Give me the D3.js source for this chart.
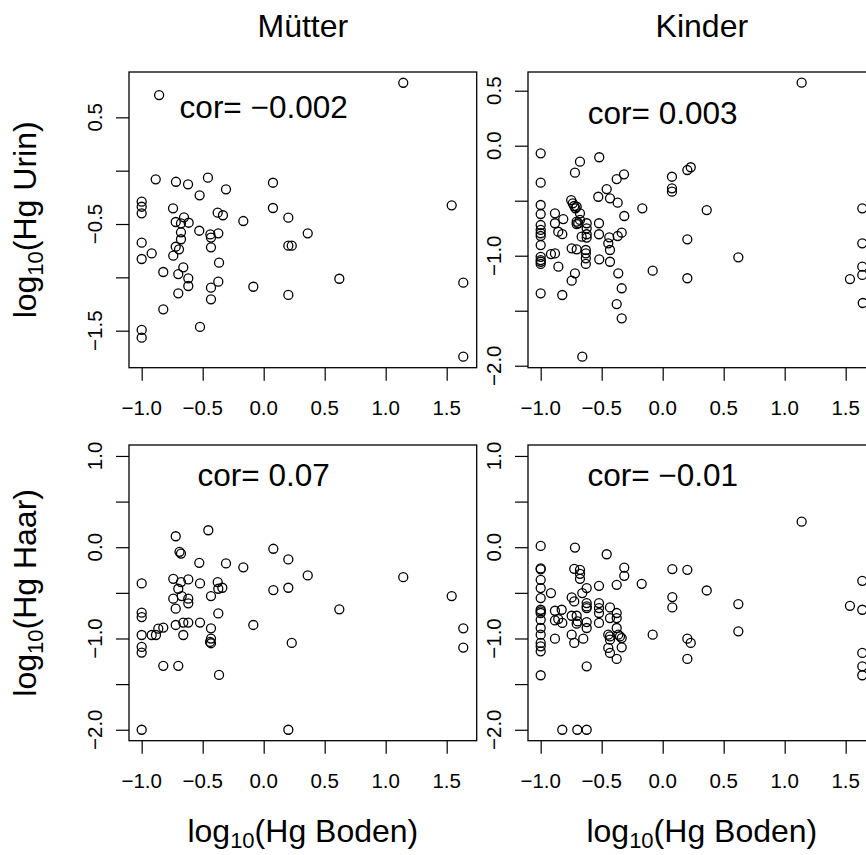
<!DOCTYPE html>
<html>
<head>
<meta charset="utf-8">
<script src="https://cdn.jsdelivr.net/npm/d3@7"></script>
<style>
  html, body { margin: 0; padding: 0; background: #fff; }
  svg { display: block; }
  text { font-family: "Liberation Sans", Arial, Helvetica, sans-serif; fill: #000; }
</style>
</head>
<body>
<svg id="chart" width="866" height="855"></svg>
<script>
// ---------------- DATA ----------------
const columnTitles = ["Mütter", "Kinder"];
const rowLabels = ["Hg Urin", "Hg Haar"];
const xLabelText = "Hg Boden";
const corTexts = ["cor= \u22120.002", "cor= 0.003", "cor= 0.07", "cor= \u22120.01"];

const xTicks = [-1.0, -0.5, 0.0, 0.5, 1.0, 1.5];
const xTickLabels = ["\u22121.0", "\u22120.5", "0.0", "0.5", "1.0", "1.5"];

const yTicksMU = [0.5, 0.0, -0.5, -1.0, -1.5];
const yLabelsMU = ["0.5", "", "\u22120.5", "", "\u22121.5"];
const yTicksKU = [0.5, 0.0, -0.5, -1.0, -1.5, -2.0];
const yLabelsKU = ["0.5", "0.0", "", "\u22121.0", "", "\u22122.0"];
const yTicksHaar = [1.0, 0.5, 0.0, -0.5, -1.0, -1.5, -2.0];
const yLabelsHaar = ["1.0", "", "0.0", "", "\u22121.0", "", "\u22122.0"];

// [log10 Hg Boden, log10 Hg Urin/Haar]
const muetterUrin = [
  [-0.857,0.709],[1.144,0.824],[-0.885,-0.081],[-0.719,-0.104],[-0.62,-0.128],[-0.457,-0.066],
  [-0.309,-0.175],[0.076,-0.113],[-0.525,-0.231],[-1.0,-0.291],[-1.0,-0.338],[-1.0,-0.40],
  [1.541,-0.325],[-0.743,-0.353],[0.076,-0.35],[-0.377,-0.394],[-0.334,-0.418],[0.202,-0.441],
  [-0.167,-0.472],[-0.653,-0.437],[-0.721,-0.481],[-0.678,-0.494],[-0.615,-0.488],[-0.528,-0.563],
  [-0.678,-0.578],[-0.437,-0.598],[-0.432,-0.627],[-0.372,-0.587],[-0.678,-0.643],[-0.721,-0.713],
  [-0.694,-0.737],[-0.432,-0.719],[-1.0,-0.675],[-0.918,-0.775],[-1.0,-0.828],[-0.741,-0.797],
  [0.202,-0.703],[0.23,-0.703],[0.361,-0.587],[-0.366,-0.862],[-0.823,-0.95],[-0.659,-0.906],
  [-0.7,-0.969],[-0.618,-1.009],[-0.618,-1.081],[-0.372,-1.041],[-0.432,-1.097],[-0.432,-1.206],
  [-0.7,-1.15],[-0.085,-1.088],[0.202,-1.165],[0.62,-1.013],[1.636,-1.05],[1.636,-1.744],
  [-0.823,-1.30],[-0.522,-1.465],[-1.0,-1.493],[-1.0,-1.566]
];

const kinderUrin = [
  [1.139,0.573],[-1.0,-0.069],[-0.52,-0.105],[-0.678,-0.145],[-0.719,-0.245],[-0.317,-0.26],
  [-0.377,-0.303],[0.076,-0.282],[0.202,-0.221],[0.23,-0.196],[0.076,-0.387],[0.076,-0.418],
  [-1.0,-0.336],[-0.459,-0.394],[-0.528,-0.464],[-0.432,-0.478],[-0.369,-0.518],[-0.75,-0.494],
  [-0.737,-0.524],[-0.725,-0.548],[-0.705,-0.555],[-0.715,-0.569],[-1.0,-0.539],[-1.0,-0.621],
  [-0.883,-0.615],[-0.815,-0.667],[-0.883,-0.705],[-0.678,-0.615],[-0.705,-0.691],[-0.692,-0.705],
  [-0.705,-0.712],[-0.678,-0.675],[-0.623,-0.705],[-0.623,-0.751],[-0.522,-0.705],[-0.522,-0.805],
  [-0.315,-0.639],[-0.167,-0.569],[0.361,-0.585],[-1.0,-0.721],[-1.0,-0.766],[-1.0,-0.796],
  [-1.0,-0.821],[-0.856,-0.782],[-0.823,-0.804],[-0.664,-0.827],[-0.623,-0.805],[-0.623,-0.835],
  [-0.438,-0.833],[-0.446,-0.887],[-0.432,-0.948],[-0.369,-0.821],[-0.336,-0.791],[-1.0,-0.903],
  [-0.916,-0.985],[-0.883,-0.979],[-0.746,-0.933],[-0.705,-0.942],[-0.63,-0.948],[-0.63,-0.978],
  [-0.63,-1.024],[-0.63,-1.075],[-0.52,-1.033],[-0.432,-1.055],[0.202,-0.851],[0.62,-1.015],
  [-0.855,-1.10],[-0.719,-1.16],[-0.746,-1.227],[-0.364,-1.16],[-0.336,-1.296],[-0.082,-1.136],
  [0.202,-1.205],[-1.0,-1.342],[-0.823,-1.357],[-0.377,-1.44],[-0.336,-1.569],[-0.659,-1.918],
  [-1.0,-1.01],[-1.0,-1.04],[-1.0,-1.055],[-1.0,-1.075],[1.636,-0.569],[1.636,-0.887],
  [1.636,-1.10],[1.636,-1.175],[1.535,-1.212],[1.64,-1.43]
];

const muetterHaar = [
  [-0.721,0.12],[-0.454,0.186],[-0.69,-0.05],[-0.678,-0.07],[0.079,-0.017],[0.202,-0.134],
  [-0.528,-0.171],[-0.309,-0.178],[-0.167,-0.22],[0.361,-0.309],[1.144,-0.328],[1.541,-0.535],
  [-1.0,-0.397],[-0.741,-0.346],[-0.678,-0.382],[-0.618,-0.353],[-0.522,-0.397],[-0.377,-0.382],
  [-0.372,-0.455],[-0.339,-0.444],[0.079,-0.47],[0.202,-0.444],[-0.7,-0.455],[-0.672,-0.535],
  [-0.741,-0.564],[-0.618,-0.564],[-0.618,-0.615],[-0.432,-0.535],[-0.721,-0.673],[-0.372,-0.725],
  [0.62,-0.681],[-1.0,-0.717],[-1.0,-0.765],[-0.085,-0.852],[-0.721,-0.852],[-0.659,-0.826],
  [-0.618,-0.826],[-0.522,-0.826],[-0.432,-0.889],[-0.864,-0.892],[-0.823,-0.881],[-1.0,-0.962],
  [-0.918,-0.962],[-0.883,-0.962],[-0.659,-0.962],[-0.432,-1.001],[-0.44,-1.038],[-0.432,-1.052],
  [0.23,-1.049],[1.636,-0.889],[1.636,-1.10],[-1.0,-1.093],[-1.0,-1.154],[-0.823,-1.30],
  [-0.7,-1.30],[-0.366,-1.399],[-1.0,-2.0],[0.202,-2.0]
];

const kinderHaar = [
  [1.139,0.28],[-1.0,0.014],[-0.719,-0.004],[-0.459,-0.077],[-1.0,-0.232],[-1.0,-0.242],
  [-0.725,-0.237],[-0.678,-0.248],[-0.678,-0.292],[-0.678,-0.346],[-0.315,-0.223],[-0.315,-0.314],
  [0.079,-0.24],[0.202,-0.248],[-1.0,-0.357],[-1.0,-0.448],[-1.0,-0.557],[-0.916,-0.503],
  [-0.623,-0.448],[-0.522,-0.423],[-0.377,-0.412],[-0.172,-0.401],[0.361,-0.474],[0.079,-0.546],
  [0.079,-0.66],[0.62,-0.623],[1.535,-0.642],[1.636,-0.368],[1.636,-0.685],[1.636,-1.158],
  [1.636,-1.305],[1.636,-1.403],[-0.746,-0.55],[-0.725,-0.594],[-0.659,-0.503],[-0.623,-0.612],
  [-0.623,-0.649],[-0.623,-0.667],[-0.522,-0.612],[-0.522,-0.667],[-0.522,-0.721],[-0.522,-0.83],
  [-0.432,-0.66],[-0.377,-0.721],[-0.377,-0.776],[-0.432,-0.776],[-1.0,-0.685],[-1.0,-0.704],
  [-1.0,-0.721],[-1.0,-0.795],[-1.0,-0.885],[-1.0,-0.958],[-1.0,-1.049],[-1.0,-1.086],
  [-1.0,-1.141],[-0.883,-0.696],[-0.828,-0.685],[-0.883,-0.802],[-0.823,-0.83],[-0.856,-0.787],
  [-0.746,-0.751],[-0.705,-0.751],[-0.697,-0.813],[-0.705,-0.838],[-0.623,-0.82],[-0.623,-0.885],
  [-0.746,-0.958],[-0.725,-1.049],[-0.651,-1.002],[-0.883,-1.002],[-0.446,-0.958],[-0.432,-0.977],
  [-0.432,-1.013],[-0.364,-0.958],[-0.336,-0.995],[-0.35,-0.977],[-0.446,-1.104],[-0.432,-1.158],
  [-0.336,-1.097],[-0.377,-1.224],[-0.082,-0.958],[0.202,-1.002],[0.23,-1.049],[0.202,-1.224],
  [0.62,-0.922],[-0.623,-1.305],[-1.0,-1.403],[-0.823,-2.0],[-0.7,-2.0],[-0.623,-2.0],
  [-0.377,-0.885]
];

// ---------------- LAYOUT ----------------
const svg = d3.select("#chart");
const FONT_BIG = 32, FONT_TICK = 20.5, FONT_COR = 31.5;
const PW = 347.7, PH = 295.7;
const xDomain = [-1.104, 1.746];

const panels = [
  { left: 129, top: 72,  data: muetterUrin, yDomain: [-1.847, 0.925], yTicks: yTicksMU,   yLabels: yLabelsMU,   cor: corTexts[0], corX: 0, corY: 0.6, col: 0, row: 0 },
  { left: 528, top: 72,  data: kinderUrin,  yDomain: [-2.018, 0.67],  yTicks: yTicksKU,   yLabels: yLabelsKU,   cor: corTexts[1], corX: 0, corY: 0.3, col: 1, row: 0 },
  { left: 129, top: 445, data: muetterHaar, yDomain: [-2.12, 1.12],   yTicks: yTicksHaar, yLabels: yLabelsHaar, cor: corTexts[2], corX: 0, corY: 0.8, col: 0, row: 1 },
  { left: 528, top: 445, data: kinderHaar,  yDomain: [-2.12, 1.12],   yTicks: yTicksHaar, yLabels: yLabelsHaar, cor: corTexts[3], corX: 0, corY: 0.8, col: 1, row: 1 }
];

panels.forEach(p => {
  const x = d3.scaleLinear().domain(xDomain).range([p.left, p.left + PW]);
  const y = d3.scaleLinear().domain(p.yDomain).range([p.top + PH, p.top]);
  const g = svg.append("g");

  // points
  g.selectAll("circle").data(p.data).enter().append("circle")
    .attr("cx", d => x(d[0])).attr("cy", d => y(d[1]))
    .attr("r", 4.5).attr("fill", "none").attr("stroke", "#000").attr("stroke-width", 1.3);

  // box
  g.append("rect").attr("x", p.left).attr("y", p.top).attr("width", PW).attr("height", PH)
    .attr("fill", "none").attr("stroke", "#000").attr("stroke-width", 1.3);

  // x axis ticks
  const xa = g.append("g").attr("transform", `translate(0,${p.top + PH})`)
    .call(d3.axisBottom(x).tickValues(xTicks).tickSize(13).tickSizeOuter(0).tickFormat(""));
  xa.select(".domain").remove();
  xa.selectAll(".tick line").attr("stroke", "#000").attr("stroke-width", 1.2);
  g.selectAll(".xlab").data(xTicks).enter().append("text")
    .attr("x", d => x(d)).attr("y", p.top + PH + 47.3)
    .attr("text-anchor", "middle").attr("font-size", FONT_TICK)
    .text((d, i) => xTickLabels[i]);

  // y axis ticks
  const ya = g.append("g").attr("transform", `translate(${p.left},0)`)
    .call(d3.axisLeft(y).tickValues(p.yTicks).tickSize(13).tickSizeOuter(0).tickFormat(""));
  ya.select(".domain").remove();
  ya.selectAll(".tick line").attr("stroke", "#000").attr("stroke-width", 1.2);
  g.selectAll(".ylab").data(p.yTicks).enter().append("text")
    .attr("transform", d => `translate(${p.left - 27.5},${y(d)}) rotate(-90)`)
    .attr("text-anchor", "middle").attr("font-size", FONT_TICK)
    .text((d, i) => p.yLabels[i]);

  // correlation text
  g.append("text").attr("x", x(p.corX)).attr("y", y(p.corY)).attr("dy", "0.36em")
    .attr("text-anchor", "middle").attr("font-size", FONT_COR).text(p.cor);

  const cx = p.left + PW / 2, cy = p.top + PH / 2;
  // column title
  if (p.row === 0) {
    svg.append("text").attr("x", cx).attr("y", 36.7).attr("text-anchor", "middle")
      .attr("font-size", FONT_BIG).text(columnTitles[p.col]);
  }
  // x axis label
  if (p.row === 1) {
    const t = svg.append("text").attr("x", cx).attr("y", 842).attr("text-anchor", "middle")
      .attr("font-size", FONT_BIG);
    t.append("tspan").text("log");
    t.append("tspan").attr("font-size", 22).attr("dy", 6).text("10");
    t.append("tspan").attr("dy", -6).text("(" + xLabelText + ")");
  }
  // y axis label
  if (p.col === 0) {
    const t = svg.append("text").attr("transform", `translate(36,${cy}) rotate(-90)`)
      .attr("text-anchor", "middle").attr("font-size", FONT_BIG);
    t.append("tspan").text("log");
    t.append("tspan").attr("font-size", 22).attr("dy", 7).text("10");
    t.append("tspan").attr("dy", -7).text("(" + rowLabels[p.row] + ")");
  }
});
</script>
</body>
</html>
